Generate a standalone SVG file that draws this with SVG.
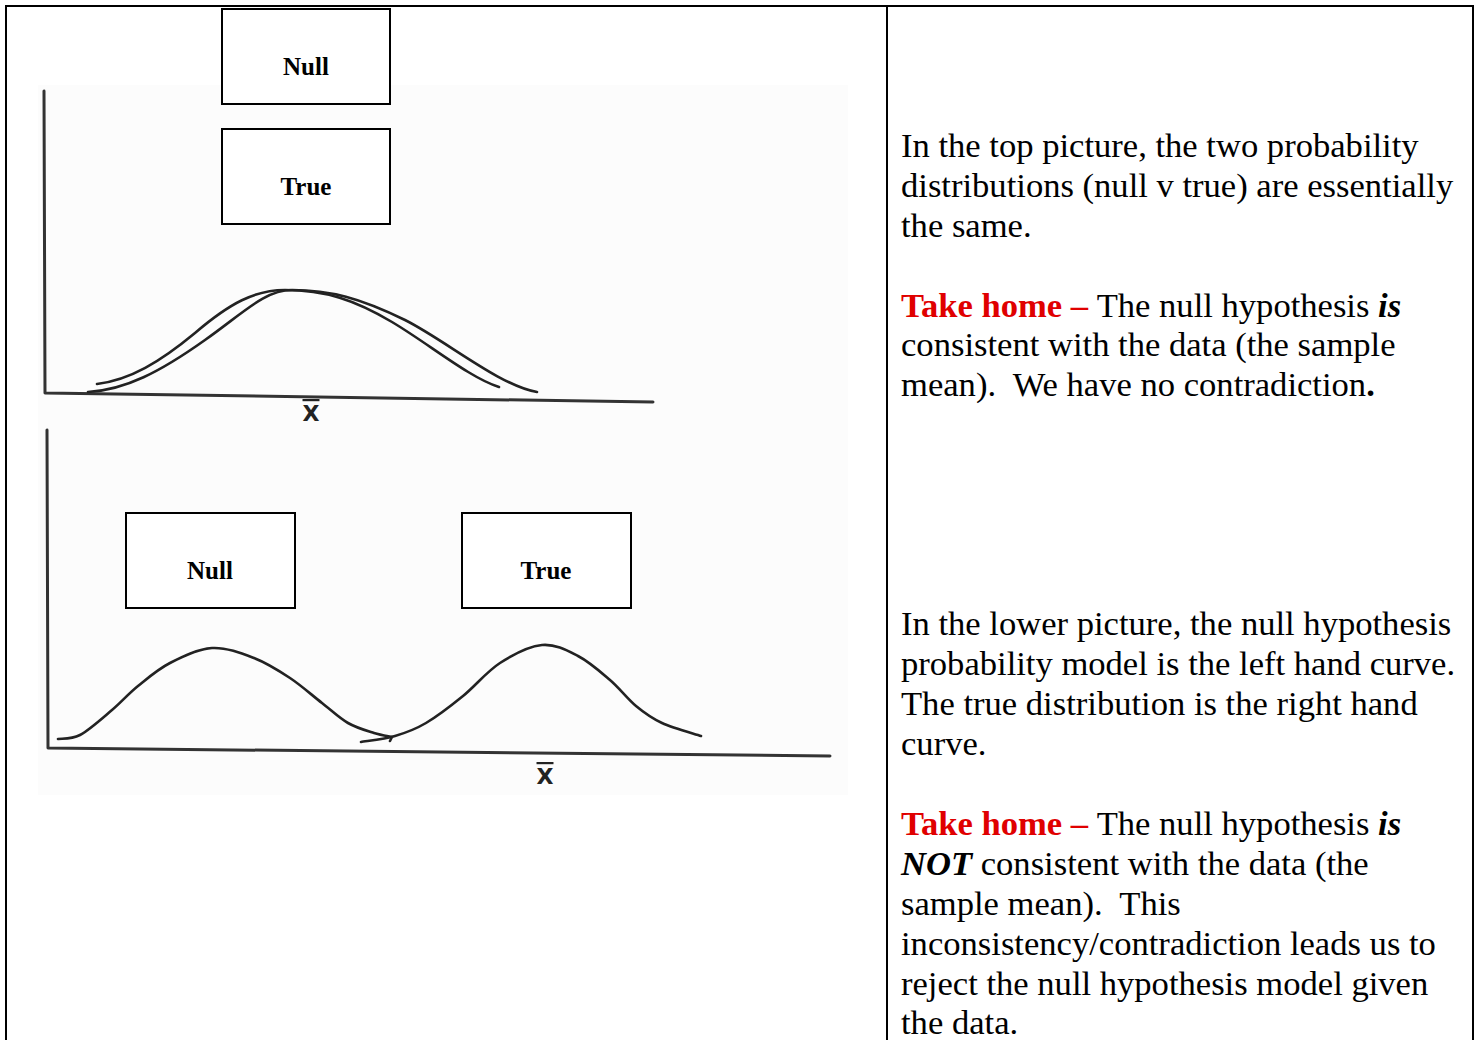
<svg xmlns="http://www.w3.org/2000/svg" width="1479" height="1040" viewBox="0 0 1479 1040">
<style>
.frame{fill:none;stroke:#000;stroke-width:2}
.box{fill:#fff;stroke:#000;stroke-width:2}
.lbl{font-family:"Liberation Serif","Times New Roman",serif;font-weight:bold;font-size:25px;fill:#000;text-anchor:middle}
.ax{fill:none;stroke:#333;stroke-width:3;stroke-linecap:round;stroke-linejoin:round}
.cv{fill:none;stroke:#222;stroke-width:2.6;stroke-linecap:round}
.xb{font-family:"DejaVu Sans","Liberation Sans",sans-serif;font-weight:bold;font-size:22px;fill:#222;text-anchor:middle;text-decoration:overline}
.t{font-family:"Liberation Serif","Times New Roman",serif;font-size:33px;fill:#000;white-space:pre}
.red{fill:#e00000;font-weight:bold}
.bi{font-weight:bold;font-style:italic}
</style>
<rect width="1479" height="1040" fill="#fff"/>
<g id="table">
<line class="frame" x1="6" y1="6" x2="1474" y2="6"/>
<line class="frame" x1="6" y1="5" x2="6" y2="1040"/>
<line class="frame" x1="887" y1="5" x2="887" y2="1040"/>
<line class="frame" x1="1473" y1="5" x2="1473" y2="1040"/>
</g>
<rect x="38" y="85" width="810" height="710" fill="#fcfcfc"/>
<g id="top-plot">
<path class="ax" d="M44,91 L45,393 L653,402"/>
<text class="xb" x="311" y="421">X</text>
</g>
<g id="bottom-plot">
<path class="ax" d="M47,430 L48,748 L830,756"/>
<text class="xb" x="545" y="784">X</text>
</g>
<g id="connectors">
<path class="cv" d="M97,384 C130,380 160,362 195,333 C230,303 255,290 285,290 C325,290 355,300 392,322 C429,344 470,378 499,387"/>
<path class="cv" d="M88,392 C125,390 160,372 205,340 C245,311.6 265,290 292,290 C330,290 360,298 405,320 C445,340 500,386 537,392"/>
<path class="cv" d="M58,739 C61.7,738.3 71,739.8 80,735 C89,730.2 102.3,718.2 112,710 C121.7,701.8 128.3,693.8 138,686 C147.7,678.2 157.7,669.3 170,663 C182.3,656.7 198,648.8 212,648 C226,647.2 241,653 254,658 C267,663 278.7,670.5 290,678 C301.3,685.5 312.3,695.5 322,703 C331.7,710.5 339.3,718 348,723 C356.7,728 366.7,730.7 374,733 C381.3,735.3 389,736.3 392,737 L390,741"/>
<path class="cv" d="M361,742 C366.7,741 384.2,739.2 395,736 C405.8,732.8 414.7,729.7 426,723 C437.3,716.3 450.7,706 463,696 C475.3,686 486.8,671.5 500,663 C513.2,654.5 529,646.2 542,645 C555,643.8 566.7,650.2 578,656 C589.3,661.8 600.3,671.7 610,680 C619.7,688.3 627.3,698.8 636,706 C644.7,713.2 651.2,718 662,723 C672.8,728 694.5,733.8 701,736"/>
</g>
<g id="node-null-top"><rect class="box" x="222" y="9" width="168" height="95"/><text class="lbl" x="306" y="75">Null</text></g>
<g id="node-true-top"><rect class="box" x="222" y="129" width="168" height="95"/><text class="lbl" x="306" y="195">True</text></g>
<g id="node-null-bottom"><rect class="box" x="126" y="513" width="169" height="95"/><text class="lbl" x="210" y="579">Null</text></g>
<g id="node-true-bottom"><rect class="box" x="462" y="513" width="169" height="95"/><text class="lbl" x="546" y="579">True</text></g>
<g id="text-top" transform="translate(901,0) scale(1.048,1)">
<text class="t" x="0" y="157">In the top picture, the two probability</text>
<text class="t" x="0" y="197">distributions (null v true) are essentially</text>
<text class="t" x="0" y="237">the same.</text>
<text class="t" x="0" y="317"><tspan class="red">Take home – </tspan>The null hypothesis <tspan class="bi">is</tspan></text>
<text class="t" x="0" y="356">consistent with the data (the sample</text>
<text class="t" x="0" y="396">mean).  We have no contradiction<tspan font-weight="bold">.</tspan></text>
</g>
<g id="text-bottom" transform="translate(901,0) scale(1.048,1)">
<text class="t" x="0" y="635">In the lower picture, the null hypothesis</text>
<text class="t" x="0" y="675">probability model is the left hand curve.</text>
<text class="t" x="0" y="715">The true distribution is the right hand</text>
<text class="t" x="0" y="755">curve.</text>
<text class="t" x="0" y="835"><tspan class="red">Take home – </tspan>The null hypothesis <tspan class="bi">is</tspan></text>
<text class="t" x="0" y="875"><tspan class="bi">NOT</tspan> consistent with the data (the</text>
<text class="t" x="0" y="915">sample mean).  This</text>
<text class="t" x="0" y="955">inconsistency/contradiction leads us to</text>
<text class="t" x="0" y="995">reject the null hypothesis model given</text>
<text class="t" x="0" y="1034">the data.</text>
</g>
</svg>
